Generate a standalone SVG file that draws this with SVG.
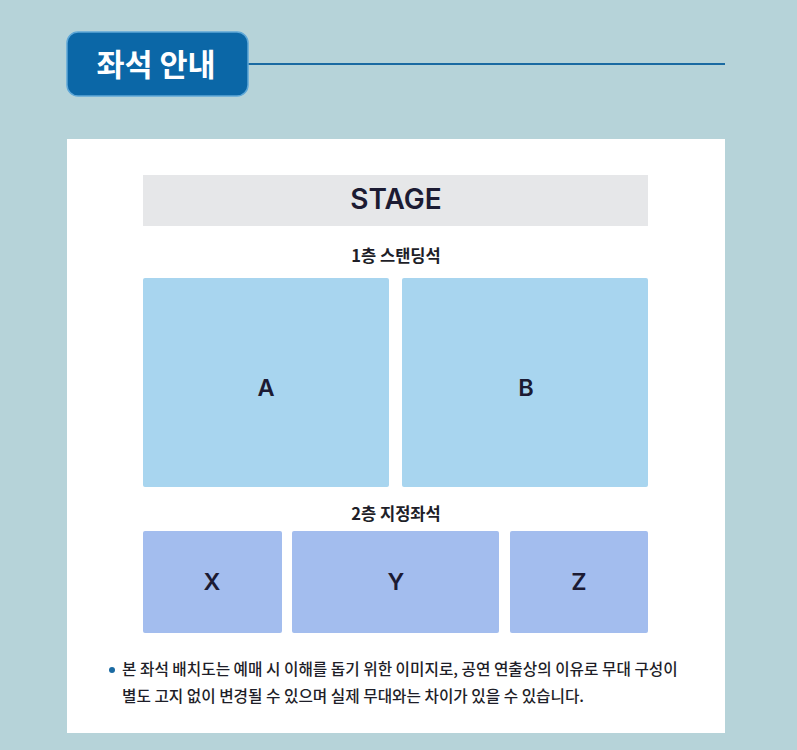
<svg xmlns="http://www.w3.org/2000/svg" width="797" height="750" viewBox="0 0 797 750">
<style>
.t{font-family:"Noto Sans CJK KR","Noto Sans",sans-serif;}
.lbl{font-family:Inter,"Noto Sans",sans-serif;font-weight:600;fill:#1c1b33;text-anchor:middle;}
.sec{font-family:"Noto Sans CJK KR",sans-serif;font-weight:700;font-size:16.5px;fill:#1e1e28;text-anchor:middle;}
.fl1{fill:#a8d5ef;}
.fl2{fill:#a3bdee;}
</style>
<rect width="797" height="750" fill="#b6d3d9"/>
<g id="header">
<line x1="246" y1="64" x2="725" y2="64" stroke="#1a6aa2" stroke-width="2"/>
<rect x="67" y="32" width="181" height="64" rx="11" fill="#0b67a7" stroke="#5fa8d8" stroke-width="1.5"/>
<text x="156" y="76" class="t" font-size="30.5" font-weight="700" fill="#ffffff" text-anchor="middle">좌석 안내</text>
</g>
<rect x="67" y="139" width="658" height="594" fill="#ffffff"/>
<g id="stage">
<rect x="143" y="175" width="505" height="51" fill="#e6e7e9"/>
<text x="396" y="209" class="lbl" font-size="28">STAGE</text>
</g>
<text x="396" y="262" class="sec">1층 스탠딩석</text>
<g id="A">
<rect x="143" y="278" width="246" height="209" rx="2" class="fl1"/>
<text x="266" y="396" class="lbl" font-size="23.5">A</text>
</g>
<g id="B">
<rect x="402" y="278" width="246" height="209" rx="2" class="fl1"/>
<text x="526" y="396" class="lbl" font-size="23.5">B</text>
</g>
<text x="396" y="520" class="sec">2층 지정좌석</text>
<g id="X">
<rect x="143" y="531" width="139" height="102" rx="2" class="fl2"/>
<text x="212" y="590" class="lbl" font-size="23.5">X</text>
</g>
<g id="Y">
<rect x="292" y="531" width="207" height="102" rx="2" class="fl2"/>
<text x="396" y="590" class="lbl" font-size="23.5">Y</text>
</g>
<g id="Z">
<rect x="510" y="531" width="138" height="102" rx="2" class="fl2"/>
<text x="579" y="590" class="lbl" font-size="23.5">Z</text>
</g>
<g id="note">
<circle cx="112" cy="670" r="3" fill="#1a6aa2"/>
<text x="122" y="675" class="t" font-size="15.7" font-weight="500" fill="#1e1e28">본 좌석 배치도는 예매 시 이해를 돕기 위한 이미지로, 공연 연출상의 이유로 무대 구성이</text>
<text x="122" y="702" class="t" font-size="15.7" font-weight="500" fill="#1e1e28">별도 고지 없이 변경될 수 있으며 실제 무대와는 차이가 있을 수 있습니다.</text>
</g>
</svg>
